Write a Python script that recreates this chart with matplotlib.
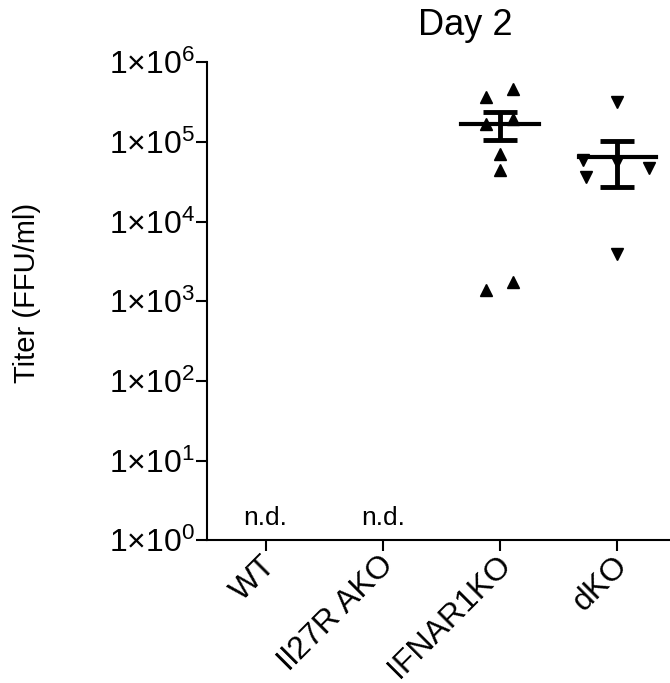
import numpy as np
import matplotlib
matplotlib.use("Agg")
import matplotlib.pyplot as plt
from matplotlib.ticker import FixedLocator, FuncFormatter
from matplotlib.transforms import ScaledTranslation

plt.rcParams["font.family"] = ["Liberation Sans", "DejaVu Sans"]
plt.rcParams["mathtext.fontset"] = "custom"
plt.rcParams["mathtext.rm"] = "Liberation Sans"

groups = ["WT", "Il27R AKO", "IFNAR1KO", "dKO"]
nd_groups = [0, 1]

ifnar_x = [-0.12, 0.11, -0.12, 0.11, 0.0, 0.0, -0.12, 0.11]
ifnar_y = [3.65e5, 4.65e5, 1.69e5, 1.95e5, 7.1e4, 4.4e4, 1.37e3, 1.74e3]
dko_x = [0.0, -0.29, -0.27, 0.0, 0.27, 0.0]
dko_y = [3.16e5, 5.9e4, 3.6e4, 5.6e4, 4.75e4, 3.96e3]

means = [1.69e5, 6.45e4]
sems = [6.5e4, 3.7e4]

fig = plt.figure(figsize=(6.7, 6.83), dpi=100)
ax = fig.add_axes([0.309, 0.209, 0.691, 0.700])

ax.plot([2 + dx for dx in ifnar_x], ifnar_y, "^", color="black", markersize=9, clip_on=False)
ax.plot([3 + dx for dx in dko_x], dko_y, "v", color="black", markersize=9, clip_on=False)

for i, (m, s) in enumerate(zip(means, sems)):
    xc = 2 + i
    ax.plot([xc - 0.33, xc + 0.33], [m, m], color="black", lw=3)
    ax.errorbar(xc, m, yerr=s, fmt="none", ecolor="black", elinewidth=3.5,
                capsize=12, capthick=3.5)

for g in nd_groups:
    ax.text(g, 1.9, "n.d.", ha="center", va="center", fontsize=19)

ax.set_yscale("log")
ax.set_ylim(1, 1e6)
ax.set_xlim(-0.5, 3.45)
ax.yaxis.set_major_locator(FixedLocator([10.0 ** k for k in range(7)]))
ax.yaxis.set_minor_locator(FixedLocator([]))
ax.yaxis.set_major_formatter(FuncFormatter(
    lambda v, p: r"$\mathregular{1×10^{%d}}$" % round(np.log10(v))))

for side in ["top", "right"]:
    ax.spines[side].set_visible(False)
for side in ["left", "bottom"]:
    ax.spines[side].set_linewidth(1.5)
ax.tick_params(axis="both", width=1.5, length=8)
ax.tick_params(axis="y", labelsize=23, pad=0.5)
ax.tick_params(axis="x", pad=11)

ax.set_xticks(range(len(groups)))
ax.set_xticklabels(groups, rotation=45, ha="right", va="center",
                   rotation_mode="anchor", fontsize=23)
# nudge the rotated labels a little right/up, like the original
shift = ScaledTranslation(0.06, 0.06, fig.dpi_scale_trans)
for lab in ax.get_xticklabels():
    lab.set_transform(lab.get_transform() + shift)

ax.set_ylabel("Titer (FFU/ml)", fontsize=21)
ax.yaxis.set_label_coords(-0.358, 0.517)
fig.text(0.694, 0.963, "Day 2", ha="center", va="center", fontsize=26)

fig.savefig("out.png", dpi=100)
